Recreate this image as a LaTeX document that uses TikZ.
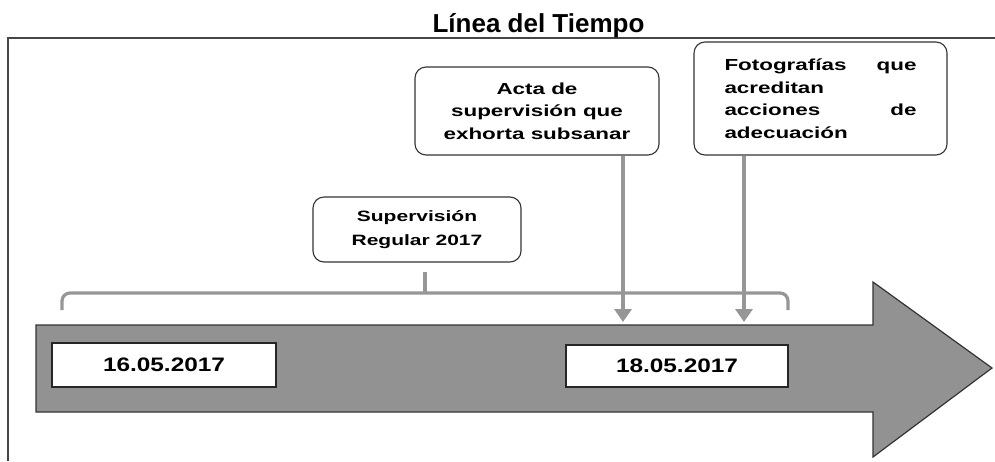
\documentclass[tikz,border=0pt]{standalone}
\usepackage{fontspec}
\setmainfont{Liberation Sans}
\newfontfamily\widefont[FakeStretch=1.4]{Liberation Sans}
\newfontfamily\datefont[FakeStretch=1.25]{Liberation Sans}
\usetikzlibrary{arrows.meta}
\definecolor{arrowgray}{RGB}{146,146,146}
\definecolor{linkgray}{RGB}{150,150,150}
\definecolor{framegray}{RGB}{70,70,70}
\begin{document}
\begin{tikzpicture}[x=1pt,y=-1pt,
  rbox/.style={draw=black!80, line width=1.1pt, rounded corners=11pt, fill=white,
    inner sep=0pt, align=center},
  boxtext/.style={font=\widefont\bfseries\fontsize{16}{22.5}\selectfont},
  datebox/.style={draw=black!85, line width=1.1pt, fill=white, inner sep=0pt,
    font=\datefont\bfseries\fontsize{19.5}{22}\selectfont},
  link/.style={draw=linkgray, line width=3.2pt},
  linkarrow/.style={link, -{Triangle[width=17pt,length=13pt]}}]
\useasboundingbox (0,0) rectangle (995,461);
% frame
\draw[framegray, line width=1.4pt] (995,38) -- (8,38) -- (8,461);
% title
\node[anchor=base, font=\bfseries\fontsize{26}{30}\selectfont, inner sep=0pt] (title) at (538.5,32) {Línea del Tiempo};
% main arrow
\draw[fill=arrowgray, draw=black!80, line width=1.2pt]
  (36,325) -- (873,325) -- (873,282) -- (992,368) -- (873,457) -- (873,412) -- (36,412) -- cycle;
% date boxes
\node[datebox, minimum width=224pt, minimum height=44pt] (d1) at (164,365) {16.05.2017};
\node[datebox, minimum width=222pt, minimum height=42pt] (d2) at (677,366) {18.05.2017};
% text boxes
\node[rbox, boxtext, minimum width=244pt, minimum height=88pt] (acta) at (537,111)
  {Acta de\\supervisión que\\exhorta subsanar};
\node[rbox, boxtext, minimum width=253pt, minimum height=113pt] (foto) at (820.5,98.5)
  {\makebox[192pt][l]{Fotografías\hfill que}\\\makebox[192pt][l]{acreditan}\\
   \makebox[192pt][l]{acciones\hfill de}\\\makebox[192pt][l]{adecuación}};
\node[rbox, font=\widefont\bfseries\fontsize{15}{24}\selectfont, minimum width=208pt, minimum height=65pt] (sup) at (417,229.5)
  {Supervisión\\Regular 2017};
% bracket
\coordinate (bl) at (62,310);
\coordinate (br) at (788,310);
\coordinate (bt) at (425,272);
\draw[link, rounded corners=8pt] (bl) -- (62,293) -- (788,293) -- (br);
\draw[link] (425,293) -- (bt);
% arrows
\coordinate (a1) at (623,322);
\coordinate (a2) at (744,322);
\draw[linkarrow] (acta.south -| a1) -- (a1);
\draw[linkarrow] (foto.south -| a2) -- (a2);
\end{tikzpicture}
\end{document}
